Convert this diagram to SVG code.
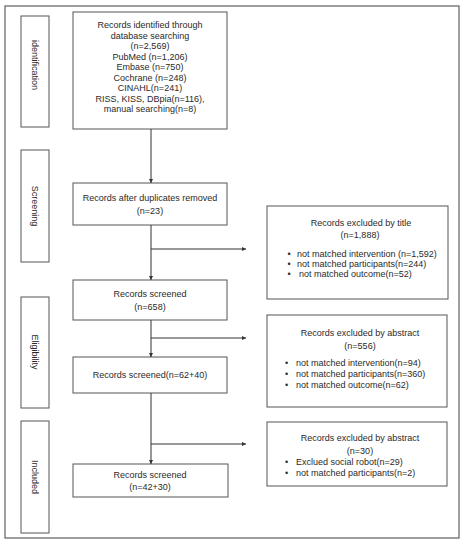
<svg xmlns="http://www.w3.org/2000/svg" width="469" height="547" viewBox="0 0 469 547">
<defs>
<style>
.frame{fill:none;stroke:#6a6a6a;stroke-width:1.3}
.box{fill:#fff;stroke:#555;stroke-width:1}
.t{font-family:"Liberation Sans",Arial,sans-serif;font-size:9px;fill:#2a2a2a}
.c{text-anchor:middle}
.ln{fill:none;stroke:#333;stroke-width:1}
</style>
<marker id="ah" markerWidth="5" markerHeight="5" refX="4" refY="2.5" orient="auto" markerUnits="userSpaceOnUse">
<path d="M0,0.5 L4,2.5 L0,4.5 Z" fill="#333"/>
</marker>
</defs>
<rect width="469" height="547" fill="#fff"/>
<rect class="frame" x="5" y="6" width="454" height="532"/>

<g id="stage-identification">
<rect class="box" x="21" y="16" width="28" height="111"/>
<text class="t c" transform="translate(32,65) rotate(90)">identification</text>
</g>
<g id="stage-screening">
<rect class="box" x="21" y="150" width="28" height="112"/>
<text class="t c" transform="translate(32,206) rotate(90)">Screening</text>
</g>
<g id="stage-eligibility">
<rect class="box" x="21" y="297" width="28" height="111"/>
<text class="t c" transform="translate(32,352) rotate(90)">Eligibility</text>
</g>
<g id="stage-included">
<rect class="box" x="21" y="421" width="28" height="112"/>
<text class="t c" transform="translate(32,477) rotate(90)">Included</text>
</g>

<g id="records-identified">
<rect class="box" x="73" y="12" width="154" height="117"/>
<text class="t c" x="150" y="28">Records identified through</text>
<text class="t c" x="150" y="38.5">database searching</text>
<text class="t c" x="150" y="49">(n=2,569)</text>
<text class="t c" x="150" y="59.5">PubMed (n=1,206)</text>
<text class="t c" x="150" y="70">Embase (n=750)</text>
<text class="t c" x="150" y="80.5">Cochrane (n=248)</text>
<text class="t c" x="150" y="91">CINAHL(n=241)</text>
<text class="t c" x="150" y="101.5">RISS, KISS, DBpia(n=116),</text>
<text class="t c" x="150" y="112">manual searching(n=8)</text>
</g>

<g id="after-duplicates">
<rect class="box" x="73" y="183" width="154" height="42"/>
<text class="t c" x="150" y="201">Records after duplicates removed</text>
<text class="t c" x="150" y="214">(n=23)</text>
</g>

<g id="screened-658">
<rect class="box" x="73" y="280" width="154" height="40"/>
<text class="t c" x="150" y="297">Records screened</text>
<text class="t c" x="150" y="310">(n=658)</text>
</g>

<g id="screened-62-40">
<rect class="box" x="73" y="357" width="154" height="36"/>
<text class="t c" x="150" y="378">Records screened(n=62+40)</text>
</g>

<g id="screened-42-30">
<rect class="box" x="73" y="464" width="155" height="33"/>
<text class="t c" x="150" y="478">Records screened</text>
<text class="t c" x="150" y="490">(n=42+30)</text>
</g>

<g id="excluded-title">
<rect class="box" x="267" y="206" width="181" height="93"/>
<text class="t c" x="361" y="226">Records excluded by title</text>
<text class="t c" x="360" y="238">(n=1,888)</text>
<text class="t" x="287.5" y="257">•</text>
<text class="t" x="297" y="257">not matched intervention (n=1,592)</text>
<text class="t" x="287.5" y="267">•</text>
<text class="t" x="297" y="267">not matched participants(n=244)</text>
<text class="t" x="287.5" y="277">•</text>
<text class="t" x="299" y="277">not matched outcome(n=52)</text>
</g>

<g id="excluded-abstract-1">
<rect class="box" x="267" y="315" width="180" height="92"/>
<text class="t c" x="360" y="336">Records excluded by abstract</text>
<text class="t c" x="360" y="349">(n=556)</text>
<text class="t" x="285" y="366">•</text>
<text class="t" x="296" y="366">not matched intervention(n=94)</text>
<text class="t" x="285" y="377">•</text>
<text class="t" x="296" y="377">not matched participants(n=360)</text>
<text class="t" x="285" y="388">•</text>
<text class="t" x="296" y="388">not matched outcome(n=62)</text>
</g>

<g id="excluded-abstract-2">
<rect class="box" x="267" y="422" width="180" height="64"/>
<text class="t c" x="360" y="441">Records excluded by abstract</text>
<text class="t c" x="360" y="454">(n=30)</text>
<text class="t" x="285" y="465">•</text>
<text class="t" x="296" y="465">Exclued social robot(n=29)</text>
<text class="t" x="285" y="476">•</text>
<text class="t" x="296" y="476">not matched participants(n=2)</text>
</g>

<g id="connectors">
<line class="ln" x1="151" y1="129" x2="151" y2="183" marker-end="url(#ah)"/>
<line class="ln" x1="151" y1="225" x2="151" y2="280" marker-end="url(#ah)"/>
<line class="ln" x1="151" y1="249" x2="246" y2="249" marker-end="url(#ah)"/>
<line class="ln" x1="151" y1="320" x2="151" y2="357" marker-end="url(#ah)"/>
<line class="ln" x1="151" y1="338" x2="246" y2="338" marker-end="url(#ah)"/>
<line class="ln" x1="151" y1="393" x2="151" y2="464" marker-end="url(#ah)"/>
<line class="ln" x1="151" y1="444" x2="246" y2="444" marker-end="url(#ah)"/>
</g>
</svg>
